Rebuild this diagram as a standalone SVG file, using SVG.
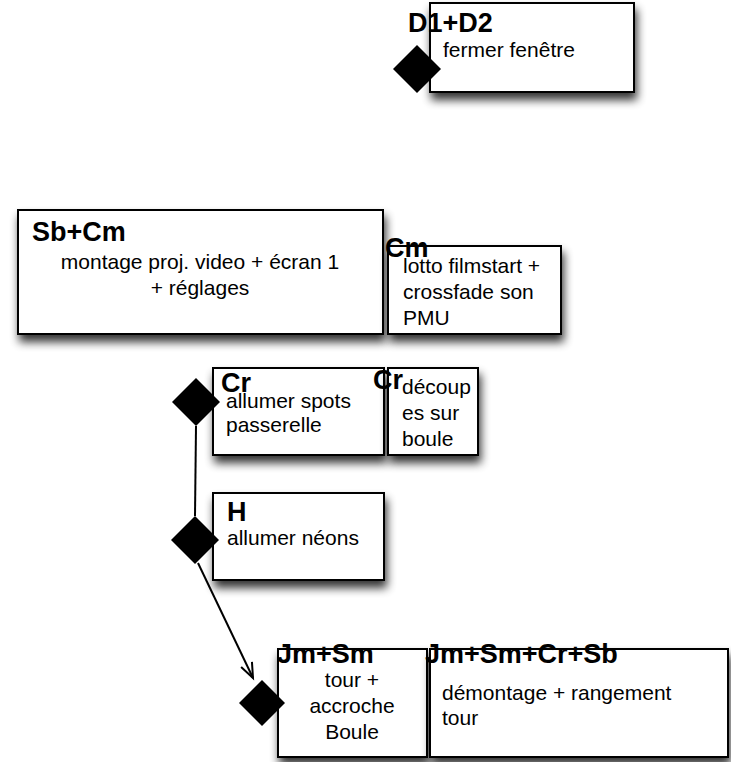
<svg xmlns="http://www.w3.org/2000/svg" width="731" height="762" viewBox="0 0 731 762">
<style>
.box{fill:#fff;stroke:#000;stroke-width:2;filter:url(#sh)}
.t{font-family:"Liberation Sans",Arial,Helvetica,sans-serif;font-size:27px;font-weight:bold;fill:#000}
.x{font-family:"Liberation Sans",Arial,Helvetica,sans-serif;font-size:21px;fill:#000}
.c{text-anchor:middle}
.dia{fill:#000}
.conn{fill:none;stroke:#000;stroke-width:2}
</style>
<defs>
<filter id="sh" x="-15%" y="-15%" width="140%" height="150%">
<feGaussianBlur in="SourceAlpha" stdDeviation="5"/>
<feOffset dx="2" dy="7" result="b"/>
<feComponentTransfer><feFuncA type="linear" slope="0.8"/></feComponentTransfer>
<feMerge><feMergeNode/><feMergeNode in="SourceGraphic"/></feMerge>
</filter>
<marker id="arr" markerWidth="20" markerHeight="20" refX="16" refY="7" orient="auto" markerUnits="userSpaceOnUse">
<path d="M1,1 L16,7 L1,13" fill="none" stroke="#000" stroke-width="2"/>
</marker>
</defs>

<g id="n-d1d2">
<rect class="box" x="430" y="3" width="204" height="89"/>
<polygon class="dia" points="417,45 441,69 417,93 393,69"/>
<text class="t" x="408" y="32">D1+D2</text>
<text class="x" x="443" y="57">fermer fenêtre</text>
</g>

<g id="n-sbcm">
<rect class="box" x="18" y="210" width="365" height="124"/>
<text class="t" x="32" y="241">Sb+Cm</text>
<text class="x c" x="200" y="269">montage proj. video + écran 1</text>
<text class="x c" x="200" y="295">+ réglages</text>
</g>

<g id="n-cm">
<rect class="box" x="388" y="246" width="173" height="88"/>
<text class="t" x="385" y="257">Cm</text>
<text class="x" x="403" y="273">lotto filmstart +</text>
<text class="x" x="403" y="299">crossfade son</text>
<text class="x" x="403" y="325">PMU</text>
</g>

<g id="n-cr1">
<rect class="box" x="213" y="368" width="171" height="87"/>
<polygon class="dia" points="196,378 220,402 196,426 172,402"/>
<text class="t" x="221" y="392">Cr</text>
<text class="x" x="226" y="408">allumer spots</text>
<text class="x" x="226" y="432">passerelle</text>
</g>

<g id="n-cr2">
<rect class="box" x="388" y="368" width="90" height="87"/>
<text class="t" x="373" y="389">Cr</text>
<text class="x" x="402" y="394">découp</text>
<text class="x" x="402" y="420">es sur</text>
<text class="x" x="402" y="446">boule</text>
</g>

<g id="n-h">
<rect class="box" x="213" y="493" width="171" height="87"/>
<polygon class="dia" points="195,516 219,540 195,564 171,540"/>
<text class="t" x="227" y="521">H</text>
<text class="x" x="227" y="545">allumer néons</text>
</g>

<g id="n-jmsm">
<rect class="box" x="278" y="649" width="149" height="108"/>
<polygon class="dia" points="262,680 285,703 262,726 239,703"/>
<text class="t" x="277" y="663">Jm+Sm</text>
<text class="x c" x="352" y="687">tour +</text>
<text class="x c" x="352" y="713">accroche</text>
<text class="x c" x="352" y="739">Boule</text>
</g>

<g id="n-all">
<rect class="box" x="430" y="649" width="298" height="108"/>
<text class="t" x="425" y="663">Jm+Sm+Cr+Sb</text>
<text class="x" x="442" y="700">démontage + rangement</text>
<text class="x" x="442" y="725">tour</text>
</g>

<g id="connectors">
<line class="conn" x1="196" y1="426" x2="195" y2="516"/>
<line class="conn" x1="198" y1="563" x2="253" y2="678" marker-end="url(#arr)"/>
</g>
</svg>
